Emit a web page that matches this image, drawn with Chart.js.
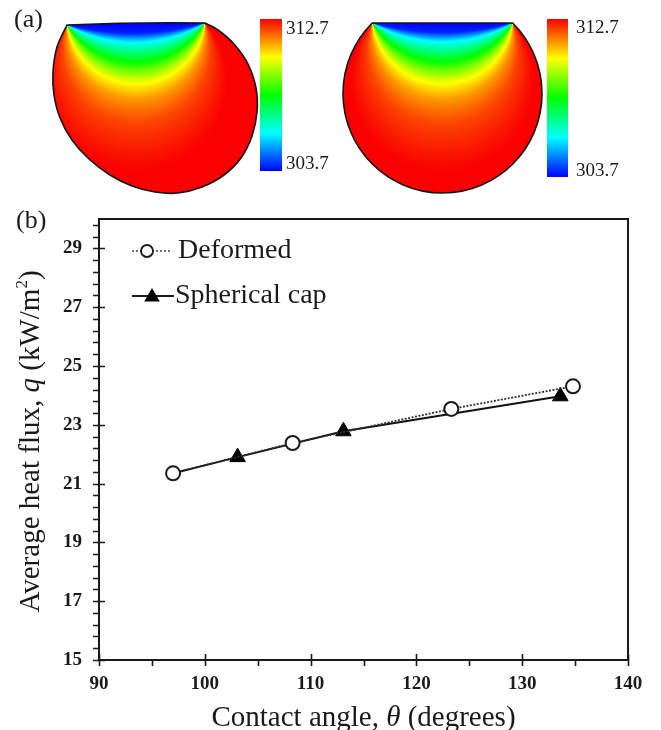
<!DOCTYPE html>
<html>
<head>
<meta charset="utf-8">
<title>Average heat flux vs contact angle</title>
<script src="https://cdn.jsdelivr.net/npm/chart.js@4.4.1/dist/chart.umd.min.js"></script>
<style>
    html, body { margin: 0; padding: 0; background: #fff; }
    #page {
        position: relative;
        width: 661px;
        height: 730px;
        overflow: hidden;
        font-family: "Liberation Serif", "Times New Roman", serif;
        color: #1a1a1a;
    }
    #drops { position: absolute; left: 0; top: 0; }
    #chartBox { position: absolute; left: 0; top: 190px; width: 661px; height: 540px; }
    .lbl { position: absolute; white-space: nowrap; line-height: 1; }
</style>
</head>
<body>
<div id="page">
    <canvas id="drops" width="661" height="200"></canvas>
    <div class="lbl" style="left:14px; top:6px; font-size:26px;">(a)</div>
    <div class="lbl" style="left:286px; top:18px; font-size:19px;">312.7</div>
    <div class="lbl" style="left:286px; top:153px; font-size:19px;">303.7</div>
    <div class="lbl" style="left:576px; top:17px; font-size:19px;">312.7</div>
    <div class="lbl" style="left:576px; top:160px; font-size:19px;">303.7</div>
    <div class="lbl" style="left:16px; top:207px; font-size:26px;">(b)</div>
    <div id="chartBox"><canvas id="heatFluxChart" width="661" height="540"></canvas></div>
</div>

<script>
// -----------------------------------------------------
// Data: average heat flux q (kW/m2) vs contact angle (deg)
// -----------------------------------------------------
const thetaDeformed = [97.0, 108.3, 123.3, 134.8];
const fluxDeformed = [21.35, 22.38, 23.54, 24.31];

const thetaSpherical = [97.0, 103.1, 113.1, 133.6];
const fluxSpherical = [21.35, 21.9, 22.78, 23.97];

const xTickValues = [90, 100, 110, 120, 130, 140];
const yTickValues = [15, 17, 19, 21, 23, 25, 27, 29];

const X_MIN = 90, X_MAX = 140, Y_MIN = 15, Y_MAX = 30;
const X_MINOR = 5, Y_MINOR = 0.4;

const INK = '#1a1a1a';
const SERIF = '"Liberation Serif", "Times New Roman", serif';

// -----------------------------------------------------
// Panel (a): temperature field inside the two droplets
// -----------------------------------------------------
const RAINBOW = [
    [0.00, [0, 0, 255]],
    [0.25, [0, 255, 255]],
    [0.50, [0, 255, 0]],
    [0.75, [255, 255, 0]],
    [1.00, [250, 0, 0]]
];

// angle (deg) seen from the contact line ends -> normalised temperature
const FIELD = [[180, 0], [165, 0.03], [150, 0.25], [122, 0.5], [98, 0.75], [85, 0.85], [70, 0.93], [50, 1]];

function lerpTable(table, x) {
    for (let i = 0; i < table.length - 1; i++) {
        const [x0, y0] = table[i], [x1, y1] = table[i + 1];
        if ((x <= x0 && x >= x1) || (x >= x0 && x <= x1)) {
            const t = (x - x0) / (x1 - x0);
            return y0 + t * (y1 - y0);
        }
    }
    return x > table[0][0] === table[0][0] > table[table.length - 1][0] ? table[0][1] : table[table.length - 1][1];
}

function rainbow(v) {
    v = Math.max(0, Math.min(1, v));
    for (let i = 0; i < RAINBOW.length - 1; i++) {
        const [s0, c0] = RAINBOW[i], [s1, c1] = RAINBOW[i + 1];
        if (v <= s1) {
            const t = (v - s0) / (s1 - s0);
            return c0.map((c, k) => Math.round(c + t * (c1[k] - c)));
        }
    }
    return RAINBOW[RAINBOW.length - 1][1];
}

function catmullPath(path, pts) {
    for (let i = 0; i < pts.length - 1; i++) {
        const p0 = pts[Math.max(0, i - 1)], p1 = pts[i], p2 = pts[i + 1], p3 = pts[Math.min(pts.length - 1, i + 2)];
        path.bezierCurveTo(
            p1[0] + (p2[0] - p0[0]) / 6, p1[1] + (p2[1] - p0[1]) / 6,
            p2[0] - (p3[0] - p1[0]) / 6, p2[1] - (p3[1] - p1[1]) / 6,
            p2[0], p2[1]
        );
    }
}

function paintDrop(ctx, outline, a, b, box) {
    const off = document.createElement('canvas');
    off.width = box.w; off.height = box.h;
    const octx = off.getContext('2d');
    const img = octx.createImageData(box.w, box.h);
    for (let j = 0; j < box.h; j++) {
        for (let i = 0; i < box.w; i++) {
            const px = box.x + i + 0.5, py = box.y + j + 0.5;
            const ax = a[0] - px, ay = a[1] - py, bx = b[0] - px, by = b[1] - py;
            const c = (ax * bx + ay * by) / (Math.hypot(ax, ay) * Math.hypot(bx, by) || 1);
            const ang = Math.acos(Math.max(-1, Math.min(1, c))) * 180 / Math.PI;
            const col = rainbow(lerpTable(FIELD, ang));
            const k = (j * box.w + i) * 4;
            img.data[k] = col[0]; img.data[k + 1] = col[1]; img.data[k + 2] = col[2]; img.data[k + 3] = 255;
        }
    }
    octx.putImageData(img, 0, 0);
    ctx.save();
    ctx.clip(outline);
    ctx.drawImage(off, box.x, box.y);
    ctx.restore();
    ctx.lineWidth = 1.6;
    ctx.strokeStyle = '#151515';
    ctx.stroke(outline);
}

function colorBar(ctx, x, y, w, h) {
    const g = ctx.createLinearGradient(0, y, 0, y + h);
    RAINBOW.forEach(([s, c]) => g.addColorStop(1 - s, `rgb(${c[0]},${c[1]},${c[2]})`));
    ctx.fillStyle = g;
    ctx.fillRect(x, y, w, h);
}

function drawDroplets() {
    const ctx = document.getElementById('drops').getContext('2d');

    // deformed droplet
    const dA = [67, 25], dB = [205, 23];
    const rim = [dB, [218, 30], [234, 44], [248, 64], [256, 88], [257, 112], [252, 136], [241, 158],
        [224, 175], [202, 187], [178, 193], [155, 192], [132, 186], [110, 175], [89, 159], [72, 140],
        [60, 118], [54, 95], [53, 72], [57, 47], dA];
    const left = new Path2D();
    left.moveTo(dA[0], dA[1]);
    left.quadraticCurveTo(136, 22, dB[0], dB[1]);
    catmullPath(left, rim);
    left.closePath();
    paintDrop(ctx, left, dA, dB, { x: 45, y: 15, w: 220, h: 185 });

    // spherical cap droplet
    const cx = 442.5, cy = 93.5, r = 99.5, top = 23;
    const half = Math.sqrt(r * r - (cy - top) * (cy - top));
    const sA = [cx - half, top], sB = [cx + half, top];
    const right = new Path2D();
    right.moveTo(sA[0], sA[1]);
    right.lineTo(sB[0], sB[1]);
    right.arc(cx, cy, r, Math.atan2(top - cy, half), Math.PI - Math.atan2(top - cy, half), false);
    right.closePath();
    paintDrop(ctx, right, sA, sB, { x: 335, y: 15, w: 215, h: 185 });

    colorBar(ctx, 260, 19, 22, 152);
    colorBar(ctx, 547, 19, 21, 158);
}

drawDroplets();

// -----------------------------------------------------
// Panel (b): plugins for frame, ticks, titles and legend
// -----------------------------------------------------
function drawRich(ctx, parts, x, y, angle) {
    ctx.save();
    ctx.translate(x, y);
    ctx.rotate(angle);
    ctx.textAlign = 'left';
    ctx.textBaseline = 'alphabetic';
    ctx.fillStyle = INK;
    let total = 0;
    parts.forEach(p => { ctx.font = p.font; p.w = ctx.measureText(p.text).width; total += p.w; });
    let px = -total / 2;
    parts.forEach(p => { ctx.font = p.font; ctx.fillText(p.text, px, p.dy || 0); px += p.w; });
    ctx.restore();
}

const frameTicks = {
    id: 'frameTicks',
    afterDraw(chart) {
        const { ctx, chartArea: a, scales: { x, y } } = chart;
        ctx.save();
        ctx.strokeStyle = INK;
        ctx.lineWidth = 2;
        ctx.strokeRect(a.left, a.top, a.right - a.left, a.bottom - a.top);

        ctx.lineWidth = 1.6;
        ctx.beginPath();
        for (let v = X_MIN; v <= X_MAX + 1e-6; v += X_MINOR) {
            const px = Math.round(x.getPixelForValue(v)) + 0.5;
            const major = xTickValues.includes(Math.round(v));
            ctx.moveTo(px, a.bottom + 6);
            ctx.lineTo(px, major ? a.bottom - 6 : a.bottom);
        }
        for (let v = Y_MIN; v <= Y_MAX + 1e-6; v += Y_MINOR) {
            const py = Math.round(y.getPixelForValue(v)) + 0.5;
            const major = yTickValues.some(t => Math.abs(t - v) < 1e-6);
            ctx.moveTo(a.left - 6, py);
            ctx.lineTo(major ? a.left + 6 : a.left, py);
        }
        ctx.stroke();
        ctx.restore();

        const reg = `29px ${SERIF}`, ital = `italic 29px ${SERIF}`;
        drawRich(ctx, [
            { text: 'Contact angle, ', font: reg },
            { text: 'θ', font: ital },
            { text: ' (degrees)', font: reg }
        ], (a.left + a.right) / 2, 536, 0);
        drawRich(ctx, [
            { text: 'Average heat flux, ', font: reg },
            { text: 'q', font: ital },
            { text: ' (kW/m', font: reg },
            { text: '2', font: `17px ${SERIF}`, dy: -12 },
            { text: ')', font: reg }
        ], 39, (a.top + a.bottom) / 2 + 2, -Math.PI / 2);
    }
};

const insetLegend = {
    id: 'insetLegend',
    afterDatasetsDraw(chart) {
        const ctx = chart.ctx;
        ctx.save();
        // deformed
        ctx.strokeStyle = '#444';
        ctx.lineWidth = 1.5;
        ctx.setLineDash([2, 2]);
        ctx.beginPath();
        ctx.moveTo(132, 61); ctx.lineTo(172, 61);
        ctx.stroke();
        ctx.setLineDash([]);
        ctx.beginPath();
        ctx.arc(147, 61, 6, 0, Math.PI * 2);
        ctx.fillStyle = '#fff';
        ctx.fill();
        ctx.strokeStyle = INK;
        ctx.lineWidth = 1.8;
        ctx.stroke();

        // spherical cap
        ctx.lineWidth = 2;
        ctx.beginPath();
        ctx.moveTo(132, 106); ctx.lineTo(174, 106);
        ctx.stroke();
        const r = 9, tx = 152, ty = 107;
        ctx.beginPath();
        ctx.moveTo(tx, ty - r);
        ctx.lineTo(tx + r * Math.sin(2 * Math.PI / 3), ty + r / 2);
        ctx.lineTo(tx - r * Math.sin(2 * Math.PI / 3), ty + r / 2);
        ctx.closePath();
        ctx.fillStyle = '#000';
        ctx.fill();

        ctx.fillStyle = INK;
        ctx.font = `28px ${SERIF}`;
        ctx.textAlign = 'left';
        ctx.textBaseline = 'middle';
        ctx.fillText('Deformed', 178, 61);
        ctx.fillText('Spherical cap', 175, 106);
        ctx.restore();
    }
};

const chartCtx = document.getElementById('heatFluxChart').getContext('2d');
new Chart(chartCtx, {
    type: 'line',
    data: {
        datasets: [{
            label: 'Deformed',
            data: thetaDeformed.map((t, i) => ({ x: t, y: fluxDeformed[i] })),
            borderColor: '#333',
            borderWidth: 1.8,
            borderDash: [2, 1.5],
            pointStyle: 'circle',
            pointRadius: 7,
            pointBackgroundColor: '#fff',
            pointBorderColor: INK,
            pointBorderWidth: 2,
            tension: 0,
            order: 0
        }, {
            label: 'Spherical cap',
            data: thetaSpherical.map((t, i) => ({ x: t, y: fluxSpherical[i] })),
            borderColor: '#111',
            borderWidth: 2,
            pointStyle: 'triangle',
            pointRadius: ctx => ctx.dataIndex === 0 ? 0 : 9,
            pointBackgroundColor: '#000',
            pointBorderColor: '#000',
            pointBorderWidth: 1,
            tension: 0,
            order: 1
        }]
    },
    options: {
        responsive: false,
        animation: false,
        events: [],
        layout: { padding: { left: 0, right: 33, top: 29, bottom: 0 } },
        plugins: {
            legend: { display: false },
            tooltip: { enabled: false }
        },
        scales: {
            x: {
                type: 'linear',
                min: X_MIN,
                max: X_MAX,
                grid: { display: false, drawTicks: false },
                border: { display: false },
                afterBuildTicks: s => { s.ticks = xTickValues.map(v => ({ value: v })); },
                afterFit: s => { s.height = 70; },
                ticks: {
                    padding: 13,
                    color: INK,
                    maxRotation: 0,
                    font: { family: SERIF, size: 19, weight: 'bold' }
                }
            },
            y: {
                type: 'linear',
                min: Y_MIN,
                max: Y_MAX,
                grid: { display: false, drawTicks: false },
                border: { display: false },
                afterBuildTicks: s => { s.ticks = yTickValues.map(v => ({ value: v })); },
                afterFit: s => { s.width = 99; },
                ticks: {
                    padding: 17,
                    color: INK,
                    font: { family: SERIF, size: 19, weight: 'bold' }
                }
            }
        }
    },
    plugins: [frameTicks, insetLegend]
});
</script>
</body>
</html>
